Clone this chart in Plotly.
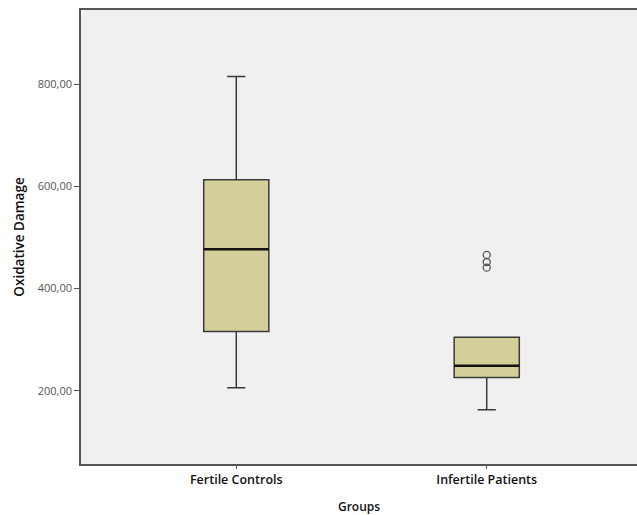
import plotly.graph_objects as go

groups = ["Fertile Controls", "Infertile Patients"]
q1 = [316, 226]
median = [477, 249]
q3 = [613, 305]
lower = [206, 163]
upper = [815, 305]
outlier_group = ["Infertile Patients", "Infertile Patients", "Infertile Patients"]
outlier_vals = [466, 452, 441]
tick_vals = [200, 400, 600, 800]
tick_text = ["200,00", "400,00", "600,00", "800,00"]

BOXW = 0.26

fig = go.Figure()
fig.add_trace(go.Box(
    x=groups, q1=q1, median=median, q3=q3, lowerfence=lower, upperfence=upper,
    fillcolor="#d4cf98", line=dict(color="#3a3a3a", width=1.5),
    width=BOXW, whiskerwidth=0.28, boxpoints=False, showlegend=False,
))
fig.add_trace(go.Scatter(
    x=outlier_group, y=outlier_vals, mode="markers",
    marker=dict(symbol="circle-open", size=7, color="#555555", line=dict(width=1.3)),
    showlegend=False,
))
for i, m in enumerate(median):
    fig.add_shape(type="line", xref="x", yref="y", x0=i - BOXW / 2, x1=i + BOXW / 2,
                  y0=m, y1=m, line=dict(color="#111111", width=2.5))

fig.update_layout(
    width=637, height=515,
    margin=dict(l=81, r=0, t=10, b=51),
    paper_bgcolor="white", plot_bgcolor="#f0f0f0",
    font=dict(family="Open Sans, Noto Sans, sans-serif", color="#222222"),
)
fig.update_xaxes(
    range=[-0.62, 1.6], showgrid=False, zeroline=False, automargin=False,
    showline=True, linecolor="#555555", linewidth=1.5, mirror=True,
    ticks="outside", ticklen=3, tickcolor="#555555",
    tickfont=dict(size=12.5, color="#111111", weight=600),
    title=dict(text="Groups", font=dict(size=12, color="#111111", weight=600), standoff=16),
)
fig.update_yaxes(
    range=[57, 945], showgrid=False, zeroline=False, automargin=False,
    showline=True, linecolor="#555555", linewidth=1.5, mirror=True,
    ticks="outside", ticklen=5, tickcolor="#555555",
    tickvals=tick_vals, ticktext=tick_text,
    tickfont=dict(size=11, color="#555555"),
    title=dict(text="Oxidative Damage", font=dict(size=13.5, color="#111111", weight=600), standoff=10),
)
fig.write_html(
    "out.html",
    config={"displayModeBar": False},
    post_script="document.body.style.margin='0';document.body.style.overflow='hidden';",
)
